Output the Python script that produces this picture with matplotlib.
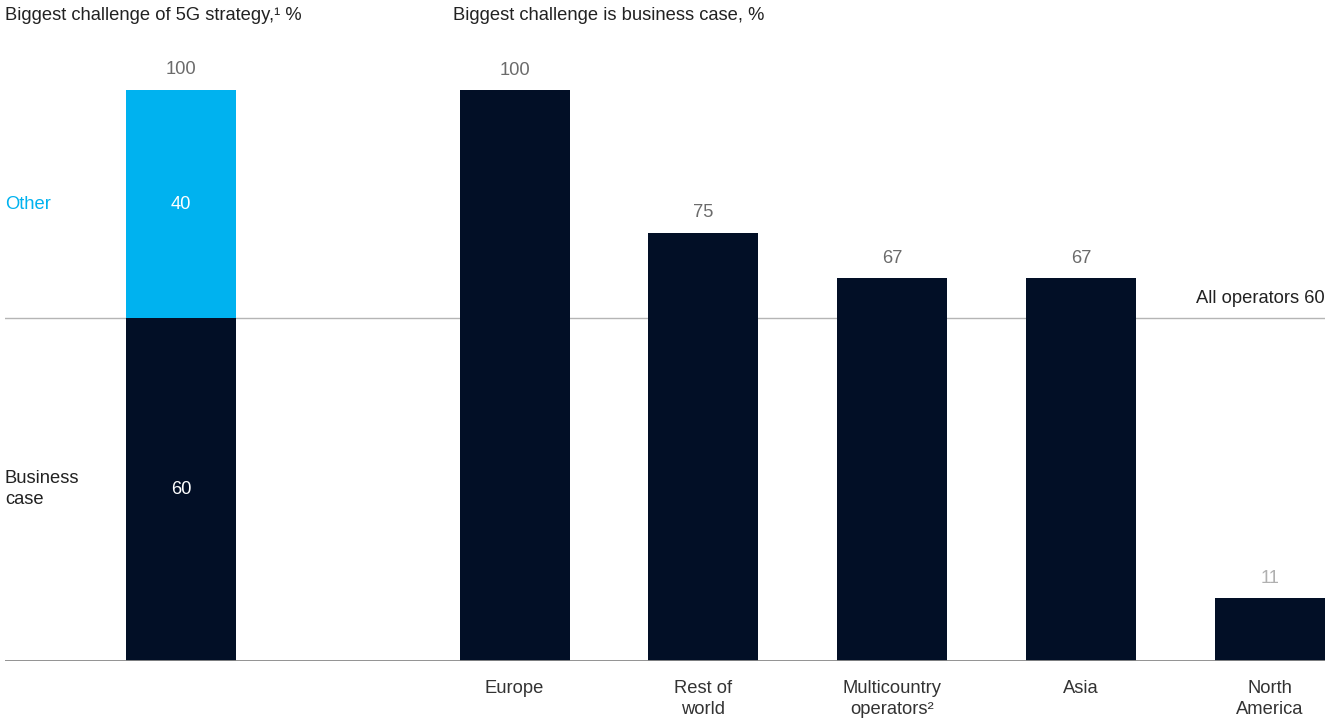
import numpy as np
import matplotlib.pyplot as plt

plt.rcParams['font.family'] = ['Liberation Sans', 'DejaVu Sans']

# Share of operators naming each biggest challenge, %
challenge_names = ['Business\ncase', 'Other']
challenge_share = [60, 40]

# Share naming business case as the biggest challenge, by group, %
regions = ['Europe', 'Rest of\nworld', 'Multicountry\noperators\u00b2', 'Asia', 'North\nAmerica']
region_share = [100, 75, 67, 67, 11]
all_operators = 60

navy = '#020f26'
cyan = '#00b2ef'
grey_txt = '#6b6b6b'
fs = 13.2

fig = plt.figure(figsize=(13.41, 7.2), dpi=100)
ax = fig.add_axes([5 / 1341, 1 - 661 / 720, 1320 / 1341, 571 / 720])

width = 0.582
x_left = 0
x_reg = 1.767 + np.arange(len(regions))

# stacked bar for all operators
ax.bar(x_left, challenge_share[0], width, color=navy)
ax.bar(x_left, challenge_share[1], width, bottom=challenge_share[0], color=cyan)
ax.text(x_left, challenge_share[0] / 2, str(challenge_share[0]), ha='center', va='center',
        color='white', fontsize=fs)
ax.text(x_left, challenge_share[0] + challenge_share[1] / 2, str(challenge_share[1]),
        ha='center', va='center', color='white', fontsize=fs)
total = sum(challenge_share)
ax.text(x_left, total + 3.6, str(total), ha='center', va='center', color=grey_txt, fontsize=fs)

# bars by region
bars = ax.bar(x_reg, region_share, width, color=navy)
for xi, v in zip(x_reg, region_share):
    c = '#b0b0b0' if v < 20 else grey_txt
    ax.text(xi, v + 3.5, str(v), ha='center', va='center', color=c, fontsize=fs)

for xi, lab in zip(x_reg, regions):
    ax.text(xi, -3.3, lab, ha='center', va='top', color='#333333', fontsize=fs,
            linespacing=1.32, clip_on=False)

ax.set_xlim(-0.931, x_reg[-1] + width / 2)
ax.set_ylim(0, 100)

# reference line for all operators
ax.axhline(all_operators, color='#b5b5b5', lw=1, zorder=0.5)
ax.text(x_reg[-1] + width / 2, all_operators + 3.5, f'All operators {all_operators}',
        ha='right', va='center', color='#222222', fontsize=fs)
ax.axhline(0, color='#8a8a8a', lw=1.3, zorder=3)

# legend-style labels on the left
ax.text(-0.931, challenge_share[0] + challenge_share[1] / 2, challenge_names[1],
        ha='left', va='center', color=cyan, fontsize=fs)
ax.text(-0.931, 30.1, challenge_names[0], ha='left', va='center', color='#222222',
        fontsize=fs, linespacing=1.32)

fig.text(5 / 1341, 1 - 16 / 720, 'Biggest challenge of 5G strategy,\u00b9 %', ha='left',
         va='center', color='#222222', fontsize=fs)
fig.text(453 / 1341, 1 - 16 / 720, 'Biggest challenge is business case, %', ha='left',
         va='center', color='#222222', fontsize=fs)

for s in ax.spines.values():
    s.set_visible(False)
ax.set_xticks([])
ax.set_yticks([])

fig.savefig('out.png', dpi=100)
